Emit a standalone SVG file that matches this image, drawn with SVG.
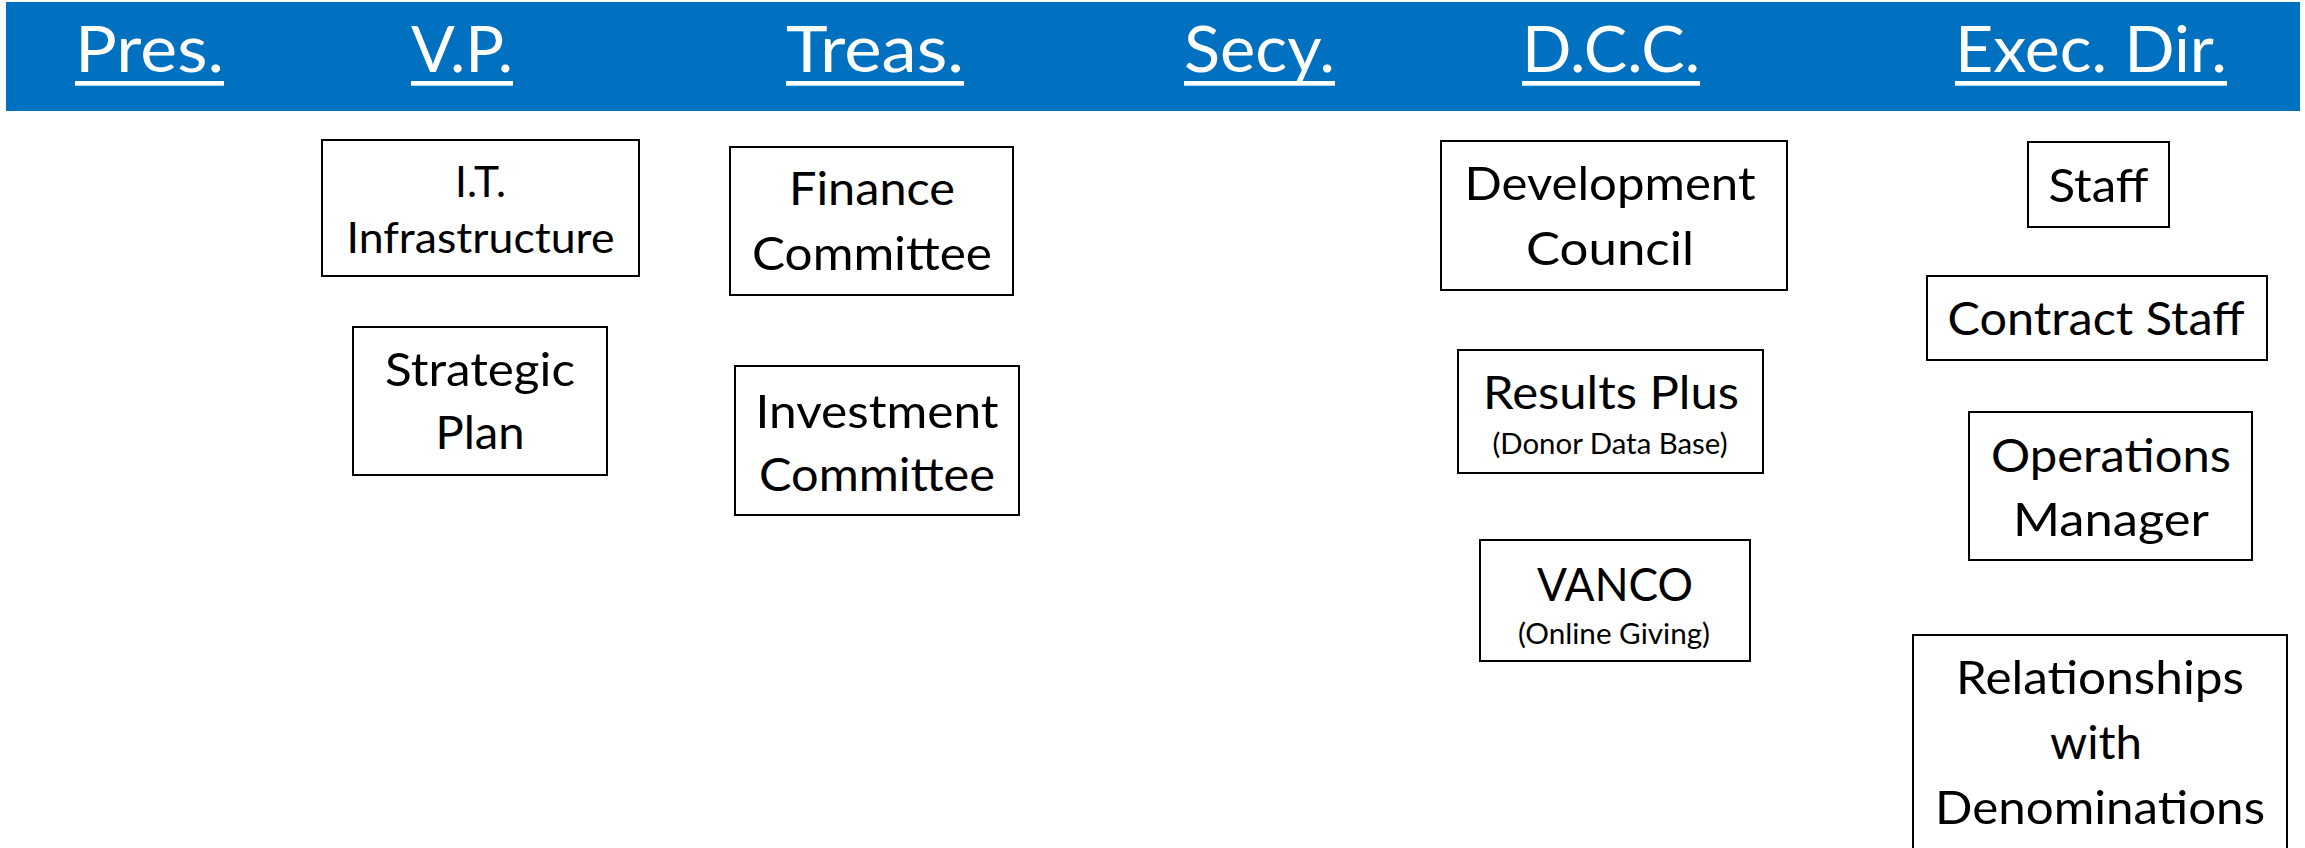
<svg xmlns="http://www.w3.org/2000/svg" width="2305" height="848" viewBox="0 0 2305 848">
<style>
  .hdr { font-family: Lato, "Liberation Sans", sans-serif; font-size: 64px; fill: #FFFFFF; }
  .ul { fill: #FFFFFF; }
  .box { fill: #FFFFFF; stroke: #000000; stroke-width: 2; }
  .t { font-family: Lato, "Liberation Sans", sans-serif; font-size: 47px; fill: #000000; text-anchor: middle; }
  .tm { font-family: Lato, "Liberation Sans", sans-serif; font-size: 42px; fill: #000000; text-anchor: middle; }
  .ts { font-family: Lato, "Liberation Sans", sans-serif; font-size: 28px; fill: #000000; text-anchor: middle; }
</style>
<rect x="0" y="0" width="2305" height="848" fill="#FFFFFF"/>
<g id="header">
  <rect x="6" y="2" width="2294" height="109" fill="#0070C0"/>
  <text class="hdr" x="75" y="72" textLength="149" lengthAdjust="spacingAndGlyphs">Pres.</text>
  <rect class="ul" x="75" y="81" width="149" height="4.7"/>
  <text class="hdr" x="411" y="72" textLength="102" lengthAdjust="spacingAndGlyphs">V.P.</text>
  <rect class="ul" x="411" y="81" width="102" height="4.7"/>
  <text class="hdr" x="786" y="72" textLength="178" lengthAdjust="spacingAndGlyphs">Treas.</text>
  <rect class="ul" x="786" y="81" width="178" height="4.7"/>
  <text class="hdr" x="1184" y="72" textLength="151" lengthAdjust="spacingAndGlyphs">Secy.</text>
  <rect class="ul" x="1184" y="81" width="151" height="4.7"/>
  <text class="hdr" x="1522" y="72" textLength="178" lengthAdjust="spacingAndGlyphs">D.C.C.</text>
  <rect class="ul" x="1522" y="81" width="178" height="4.7"/>
  <text class="hdr" x="1955" y="72" textLength="272" lengthAdjust="spacingAndGlyphs">Exec. Dir.</text>
  <rect class="ul" x="1955" y="81" width="272" height="4.7"/>
</g>
<g id="connectors"></g>
<g id="node-it">
  <rect class="box" x="322" y="140" width="317" height="136"/>
  <text class="tm" x="480.5" y="197" textLength="51" lengthAdjust="spacingAndGlyphs">I.T.</text>
  <text class="tm" x="480.5" y="253" textLength="268" lengthAdjust="spacingAndGlyphs">Infrastructure</text>
</g>
<g id="node-strategic">
  <rect class="box" x="353" y="327" width="254" height="148"/>
  <text class="t" x="480" y="386" textLength="190" lengthAdjust="spacingAndGlyphs">Strategic</text>
  <text class="t" x="480" y="449" textLength="89" lengthAdjust="spacingAndGlyphs">Plan</text>
</g>
<g id="node-finance">
  <rect class="box" x="730" y="147" width="283" height="148"/>
  <text class="t" x="872" y="205" textLength="166" lengthAdjust="spacingAndGlyphs">Finance</text>
  <text class="t" x="872" y="270" textLength="240" lengthAdjust="spacingAndGlyphs">Committee</text>
</g>
<g id="node-investment">
  <rect class="box" x="735" y="366" width="284" height="149"/>
  <text class="t" x="877" y="428" textLength="243" lengthAdjust="spacingAndGlyphs">Investment</text>
  <text class="t" x="877" y="491" textLength="236" lengthAdjust="spacingAndGlyphs">Committee</text>
</g>
<g id="node-devcouncil">
  <rect class="box" x="1441" y="141" width="346" height="149"/>
  <text class="t" x="1610" y="200" textLength="291" lengthAdjust="spacingAndGlyphs">Development</text>
  <text class="t" x="1610" y="265" textLength="168" lengthAdjust="spacingAndGlyphs">Council</text>
</g>
<g id="node-results">
  <rect class="box" x="1458" y="350" width="305" height="123"/>
  <text class="t" x="1611" y="409" textLength="256" lengthAdjust="spacingAndGlyphs">Results Plus</text>
  <text class="ts" x="1610" y="454" textLength="235" lengthAdjust="spacingAndGlyphs">(Donor Data Base)</text>
</g>
<g id="node-vanco">
  <rect class="box" x="1480" y="540" width="270" height="121"/>
  <text class="t" x="1615" y="601" textLength="156" lengthAdjust="spacingAndGlyphs">VANCO</text>
  <text class="ts" x="1614" y="644" textLength="192" lengthAdjust="spacingAndGlyphs">(Online Giving)</text>
</g>
<g id="node-staff">
  <rect class="box" x="2028" y="142" width="141" height="85"/>
  <text class="t" x="2098.5" y="202" textLength="100" lengthAdjust="spacingAndGlyphs">Staff</text>
</g>
<g id="node-contract">
  <rect class="box" x="1927" y="276" width="340" height="84"/>
  <text class="t" x="2096" y="335" textLength="297" lengthAdjust="spacingAndGlyphs">Contract Staff</text>
</g>
<g id="node-ops">
  <rect class="box" x="1969" y="412" width="283" height="148"/>
  <text class="t" x="2111" y="472" textLength="240" lengthAdjust="spacingAndGlyphs">Operations</text>
  <text class="t" x="2111" y="536" textLength="196" lengthAdjust="spacingAndGlyphs">Manager</text>
</g>
<g id="node-relationships">
  <rect class="box" x="1913" y="635" width="374" height="240"/>
  <text class="t" x="2100" y="694" textLength="288" lengthAdjust="spacingAndGlyphs">Relationships</text>
  <text class="t" x="2096" y="759" textLength="92" lengthAdjust="spacingAndGlyphs">with</text>
  <text class="t" x="2100" y="824" textLength="330" lengthAdjust="spacingAndGlyphs">Denominations</text>
</g>
</svg>
